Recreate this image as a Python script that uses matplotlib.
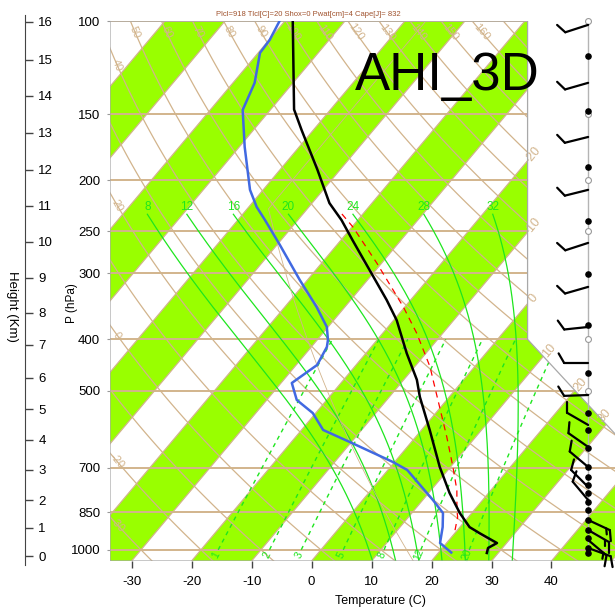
import numpy as np
import matplotlib
matplotlib.use("Agg")
import matplotlib.pyplot as plt
from matplotlib.patches import Polygon
from matplotlib.collections import LineCollection
from matplotlib.transforms import IdentityTransform

plt.rcParams['font.family'] = ['Liberation Sans', 'DejaVu Sans']

# temperature profile (hPa, C)
t_pres = [100, 147, 161, 191, 221, 238, 260, 296, 337, 368, 425, 477, 514, 594,
          697, 781, 852, 906, 930, 971, 992, 1014]
t_temp = [-78.7, -66.1, -61.9, -53.8, -47.1, -42.7, -38.0, -31.0, -24.0, -19.5,
          -13.2, -7.8, -4.9, 1.4, 8.2, 13.5, 18.0, 21.6, 24.1, 28.4, 27.6, 28.1]

# dew point profile
td_pres = [100, 108.6, 114.9, 130.9, 147.3, 173, 208.6, 224.7, 237.8, 265.2, 308.8,
           347.4, 379, 401, 413.4, 447.1, 483.7, 520.8, 551.3, 593.5, 625.3, 682.2,
           706.3, 805.1, 852.1, 905.5, 970.8, 1012]
td_temp = [-80.9, -79.9, -79.7, -76.4, -74.6, -69.1, -62.2, -58.7, -55.5, -49.5, -41.3,
           -34.7, -30.2, -28.2, -27.4, -26.5, -28.2, -25.0, -20.5, -16.4, -10.3, -0.3,
           3.2, 11.7, 15.2, 17.1, 18.9, 22.1]

# parcel path
pc_pres = [918, 867, 841, 771, 697, 612, 537, 477, 451, 389, 347, 287, 245, 231]
pc_temp = [19.6, 18.2, 17.1, 14.3, 10.4, 5.2, -0.2, -5.1, -7.4, -14.4, -20.3, -30.8,
           -39.9, -43.7]

# winds
wind_pres = [101.7, 130.9, 165.7, 208.6, 262.8, 318.3, 379.0, 443.2, 509.7, 580.6,
             638.9, 697.2, 760.7, 805.1, 878.2, 917.4, 958.2, 992.2]
wind_dir = [252, 254, 256, 256, 252, 254, 264, 270, 268, 300, 305, 310, 315, 320,
            115, 120, 130, 110]
wind_spd = [10, 10, 10, 10, 10, 10, 10, 10, 10, 10, 10, 10, 10, 10, 15, 15, 15, 10]
dot_pres = [116.4, 147.9, 188.8, 238.9, 300.7, 375.6, 463.0, 551.3, 593.5, 641.7,
            697.2, 728.3, 754.1, 780.9, 811.9, 840.9, 878.2, 917.4, 949.9, 992.2, 1014]
ring_pres = [100, 150, 200, 250, 400, 500]

# chart furniture
isobars = [100, 150, 200, 250, 300, 400, 500, 700, 850, 1000]
temp_ticks = [-30, -20, -10, 0, 10, 20, 30, 40]
theta_lines = list(range(-40, 180, 10))
theta_top_lbl = list(range(50, 170, 10))
theta_left_lbl = [40, 20, 0, -20, -30]
moist_lines = [8, 12, 16, 20, 24, 28, 32]
mix_lines = [1, 2, 3, 5, 8, 12, 20]
iso_lbl = [-20, -10, 0, 10, 20, 30]
height_km = list(range(0, 17))
height_pres = [1027.4, 909.4, 805.1, 706.3, 619.9, 541.7, 473.2, 409.9, 356.6, 306.0,
               261.7, 223.7, 191.3, 162.8, 138.6, 118.5, 100.4]

tan = '#d2b48c'
lime = '#99ff00'
mgreen = '#1ee61e'


def sky(p):
    return 132.182 - 44.061 * np.log10(np.asarray(p, dtype=float))


def skx(t, p):
    return 0.54 * np.asarray(t, dtype=float) + 0.90692 * sky(p)


def moist_curve(tw, ptop):
    Rd, cp, Lv, eps = 287.04, 1005.7, 2.501e6, 0.622

    def slope(T, pp):
        e = 6.112 * np.exp(17.67 * (T - 273.15) / (T - 29.65))
        rs = eps * e / (pp - e)
        return (Rd * T + Lv * rs) / (cp + Lv * Lv * rs * eps / (Rd * T * T))

    def integ(p0, p1, n):
        lp = np.linspace(np.log(p0), np.log(p1), n)
        T = [tw + 273.15]
        for i in range(n - 1):
            h = lp[i + 1] - lp[i]
            k1 = slope(T[-1], np.exp(lp[i]))
            k2 = slope(T[-1] + h * k1, np.exp(lp[i + 1]))
            T.append(T[-1] + 0.5 * h * (k1 + k2))
        return np.exp(lp), np.array(T) - 273.15

    pl, tl = integ(1000., 1050., 10)
    pu, tu = integ(1000., ptop, 200)
    return np.concatenate([pl[::-1], pu[1:]]), np.concatenate([tl[::-1], tu[1:]])


fig = plt.figure(figsize=(6.15, 6.11), dpi=100)
ax = fig.add_axes([110 / 615, 50 / 611, 512 / 615, 540 / 611])
ybot, ytop = sky(1050.), sky(100.)
xmin, xmax = float(skx(-33.6, 1050.)), 27.1
ax.set_xlim(xmin, xmax)
ax.set_ylim(ybot, ytop)
for s in ax.spines.values():
    s.set_visible(False)

yn1 = float(sky(400.))
corner = [(xmin, ybot), (xmax, ybot), (xmax, yn1 - 8.5), (18.6, yn1), (18.6, ytop), (xmin, ytop)]
bg = Polygon(corner, closed=True, facecolor='none', edgecolor='#a8a8a8', lw=0.9, zorder=6)
ax.add_patch(bg)


def angle(x0, y0, x1, y1):
    a = ax.transData.transform([(x0, y0), (x1, y1)])
    return np.degrees(np.arctan2(a[1, 1] - a[0, 1], a[1, 0] - a[0, 0]))


# green isotherm bands
for t in range(-120, 50, 20):
    band = Polygon([(skx(t, 1050), ybot), (skx(t + 10, 1050), ybot),
                    (skx(t + 10, 100), ytop), (skx(t, 100), ytop)],
                   closed=True, fc=lime, ec='none', zorder=1)
    ax.add_patch(band)
    band.set_clip_path(bg)

# isotherms
for t in range(-120, 60, 10):
    ln, = ax.plot([skx(t, 1050), skx(t, 100)], [ybot, ytop], color=tan, lw=0.9, zorder=2)
    ln.set_clip_path(bg)

# isobars
for p in isobars:
    ln, = ax.plot([xmin, xmax], [sky(p), sky(p)], color=tan, lw=1.4, zorder=2)
    ln.set_clip_path(bg)

# dry adiabats
pp = np.logspace(np.log10(1050), 2, 120)
for th in theta_lines:
    tt = (th + 273.15) * (pp / 1000.) ** 0.2857 - 273.15
    ln, = ax.plot(skx(tt, pp), sky(pp), color=tan, lw=0.9, zorder=2)
    ln.set_clip_path(bg)
for th in theta_top_lbl:
    p1, p2 = 105., 112.
    t1 = (th + 273.15) * (p1 / 1000.) ** 0.2857 - 273.15
    t2 = (th + 273.15) * (p2 / 1000.) ** 0.2857 - 273.15
    rot = angle(skx(t1, p1), sky(p1), skx(t2, p2), sky(p2))
    ax.text(skx(t1, p1), sky(p1), str(th), color=tan, fontsize=8, rotation=rot,
            rotation_mode='anchor', ha='center', va='center', zorder=5)
for th in theta_left_lbl:
    tt = (th + 273.15) * (pp / 1000.) ** 0.2857 - 273.15
    xx, yy = skx(tt, pp), sky(pp)
    xl = xmin + 0.65
    yl = np.interp(xl, xx[::-1], yy[::-1])
    i = np.argmin(np.abs(yy - yl))
    rot = angle(xx[i + 3], yy[i + 3], xx[i - 3], yy[i - 3])
    ax.text(xl, yl, str(th), color=tan, fontsize=8, rotation=rot,
            rotation_mode='anchor', ha='center', va='center', zorder=5)

# isotherm labels on the right edge
for t in iso_lbl:
    yv = (18.6 - 0.54 * t) / 0.90692
    if yv < yn1:
        yv = (18.6 + yn1 - 0.54 * t) / 1.90692
    xv = 0.54 * t + 0.90692 * yv
    rot = angle(skx(t, 1050), ybot, skx(t, 100), ytop)
    off = (4, 4) if t < 30 else (-1, 6)
    ax.annotate(str(t), (xv, yv), xytext=off, textcoords='offset points',
                color=tan, fontsize=9, rotation=rot, ha='center', va='center',
                annotation_clip=False, zorder=5)

# moist adiabats
for tw in moist_lines:
    pm, tm = moist_curve(tw, 232.)
    ln, = ax.plot(skx(tm, pm), sky(pm), color=mgreen, lw=0.9, zorder=3)
    ln.set_clip_path(bg)
    ax.annotate(str(tw), (skx(tm[-1], pm[-1]), sky(pm[-1])), xytext=(0, 1),
                textcoords='offset points', color=mgreen, fontsize=8.5,
                ha='center', va='bottom', zorder=5)

# mixing ratio lines
pw = np.linspace(1000, 400, 60)
for w in mix_lines:
    e = w * pw / (622. + w)
    le = np.log(e / 6.112)
    td = 243.5 * le / (17.67 - le)
    ln, = ax.plot(skx(td, pw), sky(pw), color=mgreen, lw=1.0, ls=(0, (3, 3)), zorder=3)
    ln.set_clip_path(bg)
    pl = 1022.
    el = w * pl / (622. + w)
    ll = np.log(el / 6.112)
    tl = 243.5 * ll / (17.67 - ll)
    rot = angle(skx(td[0], pw[0]), sky(pw[0]), skx(td[10], pw[10]), sky(pw[10]))
    ax.text(skx(tl, pl), sky(pl), str(w), color=mgreen, fontsize=7.5, rotation=rot,
            rotation_mode='anchor', ha='center', va='center', zorder=5)

# standard atmosphere
zz = np.linspace(-0.3, 16.5, 120)
tz = np.where(zz < 11, 288.15 - 6.5 * zz, 216.65)
pz = np.where(zz < 11, 1013.25 * (np.minimum(tz, 288.15 + 2) / 288.15) ** 5.2559,
              226.32 * np.exp(-(zz - 11) / 6.3416))
ln, = ax.plot(skx(tz - 273.15, pz), sky(pz), color=tan, lw=0.6, zorder=3)
ln.set_clip_path(bg)

# profiles
ax.plot(skx(pc_temp, pc_pres), sky(pc_pres), color='red', lw=0.9, ls=(0, (5, 4)), zorder=7)
ax.plot(skx(td_temp, td_pres), sky(td_pres), color='#4169e1', lw=1.8, zorder=8)
ax.plot(skx(t_temp, t_pres), sky(t_pres), color='black', lw=1.8, zorder=8)

# winds
xb = 24.05
ax.plot([xb, xb], [sky(1014), ytop], color='#b4b4b4', lw=1.0, zorder=7, clip_on=False)
ax.scatter(np.full(len(ring_pres), xb), sky(ring_pres), s=18, facecolors='white',
           edgecolors='#9a9a9a', lw=0.8, zorder=8, clip_on=False)
ax.scatter(np.full(len(dot_pres), xb), sky(dot_pres), s=14, color='black', zorder=9,
           clip_on=False)

# barbs drawn by hand in pixel space: staff toward the wind source, feathers
# swept outward on the clockwise side
segs = []
for p, d, s in zip(wind_pres, wind_dir, wind_spd):
    x0, y0 = ax.transData.transform((xb, float(sky(p))))
    a = np.radians(d)
    ux, uy = np.sin(a), np.cos(a)
    tx, ty = x0 + 24 * ux, y0 + 24 * uy
    segs.append([(x0, y0), (tx, ty)])
    fa = np.arctan2(uy, ux) - np.radians(60)
    fx, fy = np.cos(fa), np.sin(fa)
    pos = 0.
    for k in range(int(s // 10)):
        bx, by = tx - pos * ux, ty - pos * uy
        segs.append([(bx, by), (bx + 11 * fx, by + 11 * fy)])
        pos += 4.
    if s % 10 >= 5:
        pos = max(pos, 4.)
        bx, by = tx - pos * ux, ty - pos * uy
        segs.append([(bx, by), (bx + 6 * fx, by + 6 * fy)])
barbs = LineCollection(segs, colors='black', linewidths=1.6, capstyle='round',
                       transform=IdentityTransform(), zorder=9)
barbs.set_clip_on(False)
ax.add_collection(barbs, autolim=False)

# axes ticks
ax.set_xticks(skx(temp_ticks, 1050))
ax.set_xticklabels([str(t) for t in temp_ticks])
ax.set_yticks(sky(isobars))
ax.set_yticklabels([str(p) for p in isobars])
ax.tick_params(axis='x', length=5, width=1, color='#444444', pad=6, labelsize=9.5)
ax.tick_params(axis='y', length=2.5, width=0.8, color='#999999', pad=4.5, labelsize=9.5)

# height axis
upx = (ytop - ybot) / 540.
axh = fig.add_axes([25 / 615, 46 / 611, 0.0001, 550 / 611])
axh.set_ylim(ybot - 4 * upx, ytop + 6 * upx)
for k in ['left', 'top', 'bottom']:
    axh.spines[k].set_visible(False)
axh.spines['right'].set_color('#444444')
axh.set_xticks([])
axh.yaxis.tick_right()
axh.set_yticks(sky(height_pres))
axh.set_yticklabels([str(h) for h in height_km])
axh.tick_params(axis='y', length=5.5, width=1, color='#444444', pad=4, labelsize=9.5)

fig.text(12 / 615, 1 - 306 / 611, 'Height (Km)', rotation=-90, ha='center', va='center',
         fontsize=9.5)
fig.text(72 / 615, 1 - 303 / 611, 'P (hPa)', rotation=90, ha='center', va='center',
         fontsize=8.5)
fig.text(380 / 615, 1 - 601 / 611, 'Temperature (C)', ha='center', va='center', fontsize=9)
fig.text(308 / 615, 1 - 15 / 611, 'Plcl=918 Tlcl[C]=20 Shox=0 Pwat[cm]=4 Cape[J]= 832',
         ha='center', va='center', fontsize=5.5, color='#a0522d')
fig.text(355 / 615, 1 - 90 / 611, 'AHI_3D', ha='left', va='baseline', fontsize=38,
         zorder=10)

fig.savefig('out.png', dpi=100)
